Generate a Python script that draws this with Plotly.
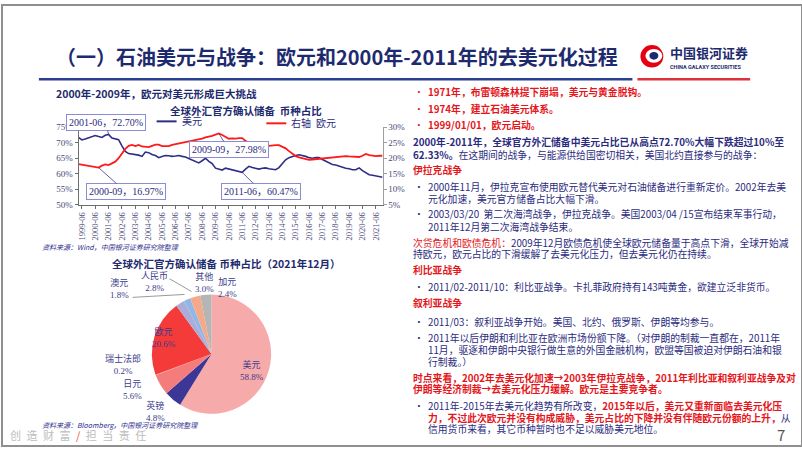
import plotly.graph_objects as go

W, H = 802, 451
def fx(x): return x / W
def fy(y): return 1 - y / H

NAVY = "#2B2B7E"
RED = "#E5161B"
SERIF = "Liberation Serif, Noto Sans CJK SC"
SANS = "Noto Sans CJK SC, Noto Sans, sans-serif"

# ---------------- data ----------------
years = list(range(1999, 2022))
quarter_ends = ["03-31", "06-30", "09-30", "12-31"]
dates = [f"{y}-{q}" for y in years for q in quarter_ends]

usd_share = [
    71.7, 70.9, 71.2, 71.5,   # 1999
    71.8, 72.3, 72.0, 71.7,   # 2000
    72.4, 72.7, 71.5, 71.2,   # 2001
    71.0, 69.0, 67.2, 66.5,   # 2002
    66.4, 66.3, 66.0, 65.6,   # 2003
    67.0, 66.8, 66.2, 65.9,   # 2004
    65.2, 65.6, 65.9, 65.8,   # 2005
    65.6, 65.7, 65.9, 65.6,   # 2006
    65.4, 64.9, 64.4, 63.9,   # 2007
    63.5, 64.2, 65.0, 64.0,   # 2008
    63.3, 61.8, 61.5, 61.2,   # 2009
    61.8, 61.5, 61.2, 61.0,   # 2010
    60.8, 60.47, 61.5, 62.4,  # 2011
    62.0, 61.7, 61.5, 61.8,   # 2012
    61.9, 61.6, 61.4, 61.3,   # 2013
    62.0, 63.2, 64.5, 65.2,   # 2014
    65.6, 65.9, 66.1, 65.9,   # 2015
    65.6, 65.2, 65.0, 65.2,   # 2016
    65.2, 64.6, 64.0, 63.4,   # 2017
    63.0, 62.8, 62.4, 62.0,   # 2018
    61.8, 61.6, 61.3, 61.3,   # 2019
    61.9, 61.0, 60.2, 59.7,   # 2020
    59.5, 59.3, 59.1, 58.9,   # 2021
]
eur_share = [
    18.1, 17.9, 17.8, 17.5,   # 1999
    17.4, 17.2, 16.97, 17.6,  # 2000
    18.0, 17.8, 18.3, 18.9,   # 2001
    20.0, 21.5, 23.0, 24.0,   # 2002
    24.3, 23.9, 24.3, 23.8,   # 2003
    23.6, 23.6, 24.0, 24.4,   # 2004
    24.4, 23.9, 23.9, 23.9,   # 2005
    24.3, 24.5, 24.8, 25.0,   # 2006
    25.2, 25.5, 25.7, 25.9,   # 2007
    26.1, 26.3, 26.7, 26.9,   # 2008
    27.2, 27.6, 27.98, 27.5,  # 2009
    26.8, 26.3, 26.4, 26.3,   # 2010
    26.5, 26.5, 25.6, 25.0,   # 2011
    24.7, 24.5, 24.3, 24.2,   # 2012
    23.9, 24.0, 24.2, 24.2,   # 2013
    24.2, 23.8, 23.2, 22.3,   # 2014
    21.4, 20.7, 20.3, 20.0,   # 2015
    19.7, 19.5, 19.6, 19.7,   # 2016
    19.9, 20.0, 20.2, 20.3,   # 2017
    20.4, 20.5, 20.6, 20.7,   # 2018
    20.7, 20.6, 20.5, 20.6,   # 2019
    20.4, 20.8, 21.4, 21.0,   # 2020
    20.8, 20.7, 20.8, 20.8,   # 2021
]
tick_dates = [f"{y}-06-30" for y in years]
tick_text = [f"{y}-06" for y in years]

series_names = ["美元", "右轴  欧元"]
series_colors = ["#2E2E86", "#FF1A1A"]

# callouts: (date, value, axis, label, ax, ay)
callouts = [
    ("2001-06-30", 72.70, "y", "2001-06，72.70%", -3, -12),
    ("2000-09-30", 16.97, "y2", "2000-09，16.97%", 27, 24),
    ("2009-09-30", 27.98, "y2", "2009-09，27.98%", 10, 16),
    ("2011-06-30", 60.47, "y", "2011-06，60.47%", 19, 19),
]

pie_labels = ["美元", "英镑", "日元", "瑞士法郎", "欧元", "加元", "澳元", "人民币", "其他"]
pie_values = [58.8, 4.8, 5.6, 0.2, 20.6, 2.4, 1.8, 2.8, 3.0]
pie_colors = ["#F6AAAA", "#3C3697", "#F47C7C", "#F2A07B", "#F53A3A",
              "#ABADD9", "#92B6E6", "#F3A98A", "#B5B5B5"]
pie_label_pos = {"美元": (251, 374), "英镑": (154, 416), "日元": (131, 394),
                 "瑞士法郎": (121, 368), "欧元": (162, 340), "加元": (226, 289),
                 "澳元": (118, 290), "人民币": (153, 283), "其他": (203, 284)}

fig = go.Figure()

fig.add_trace(go.Scatter(x=dates, y=usd_share, name=series_names[0], mode="lines",
                         line=dict(color=series_colors[0], width=1.6), yaxis="y",
                         showlegend=False))
fig.add_trace(go.Scatter(x=dates, y=eur_share, name=series_names[1], mode="lines",
                         line=dict(color=series_colors[1], width=1.8), yaxis="y2",
                         showlegend=False))

pcx, pcy, pr = 210, 357, 61
fig.add_trace(go.Pie(labels=pie_labels, values=pie_values, sort=False,
                     direction="clockwise", rotation=0, textinfo="none",
                     marker=dict(colors=pie_colors, line=dict(width=0)),
                     showlegend=False, hoverinfo="label+percent",
                     domain=dict(x=[fx(pcx - pr), fx(pcx + pr)],
                                 y=[fy(pcy + pr), fy(pcy - pr)])))

ann = []
shapes = []

# line chart callouts
for d, v, ax_ref, txt, axp, ayp in callouts:
    ann.append(dict(x=d, y=v, xref="x", yref=ax_ref, text=txt, showarrow=True,
                    arrowhead=0, arrowwidth=0.8, arrowcolor="#3A3A8A",
                    ax=axp, ay=ayp, font=dict(family=SERIF, size=10, color=NAVY),
                    bordercolor="#8C8CD6", borderwidth=1, borderpad=2,
                    bgcolor="white"))

# pie labels
for lab, val in zip(pie_labels, pie_values):
    x, y = pie_label_pos[lab]
    ann.append(dict(x=fx(x), y=fy(y), xref="paper", yref="paper",
                    text=f"{lab}<br>{val:.1f}%", showarrow=False,
                    font=dict(family=SERIF, size=9, color="#3C3C8C"),
                    xanchor="center", yanchor="middle", align="center"))
# pie leader lines
for (x0, y0, x1, y1) in [(131, 299, 183, 296), (168, 280, 190, 293)]:
    shapes.append(dict(type="line", xref="paper", yref="paper",
                       x0=fx(x0), y0=fy(y0), x1=fx(x1), y1=fy(y1),
                       line=dict(color="#808080", width=0.8)))

def text(x, y, s, size=10, color=NAVY, anchor="left", family=SANS):
    ann.append(dict(x=fx(x), y=fy(y), xref="paper", yref="paper", text=s,
                    showarrow=False, xanchor=anchor, yanchor="middle",
                    font=dict(family=family, size=size, color=color)))

# manual legend for the line chart
for (lx, ly), nm, col in zip([(155, 119), (265, 121)], series_names, series_colors):
    shapes.append(dict(type="line", xref="paper", yref="paper",
                       x0=fx(lx), x1=fx(lx + 20), y0=fy(ly), y1=fy(ly),
                       line=dict(color=col, width=2)))
    text(lx + 23, ly, nm, 10, NAVY, family=SERIF)

# title & headings
text(52, 53, "<b>（一）石油美元与战争：欧元和2000年-2011年的去美元化过程</b>", 20, "#1E2A6E")
text(52, 91, "<b>2000年-2009年，欧元对美元形成巨大挑战</b>", 10.5, "#1E2A6E")
text(245, 108, "<b>全球外汇官方确认储备  币种占比</b>", 10.5, "#1E2A6E", "center")
text(38, 247, "<i>资料来源：Wind，中国银河证券研究院整理</i>", 7, "#2E2E8E")
text(225, 264, "<b>全球外汇官方确认储备 币种占比（2021年12月）</b>", 10.5, "#1E2A6E", "center")
text(38, 430, "<i>资料来源：Bloomberg，中国银河证券研究院整理</i>", 7, "#2E2E8E")

# logo
text(668, 49, "<b>中国银河证券</b>", 13, "#1D2A6E")
text(668, 63, "<b>CHINA GALAXY SECURITIES</b>", 5.5, "#1D2A6E", family="Roboto")
shapes.append(dict(type="circle", xref="paper", yref="paper",
                   x0=fx(640), x1=fx(663), y0=fy(64), y1=fy(41),
                   fillcolor="#E60012", line=dict(width=0)))
shapes.append(dict(type="circle", xref="paper", yref="paper",
                   x0=fx(645), x1=fx(662), y0=fy(59), y1=fy(45),
                   fillcolor="white", line=dict(width=0)))
shapes.append(dict(type="circle", xref="paper", yref="paper",
                   x0=fx(649), x1=fx(658), y0=fy(56), y1=fy(48),
                   fillcolor="#1D2A6E", line=dict(width=0)))

# title underline
shapes.append(dict(type="line", xref="paper", yref="paper", x0=fx(37), x1=fx(632),
                   y0=fy(76), y1=fy(76), line=dict(color="#2A3F8F", width=2.5)))
shapes.append(dict(type="line", xref="paper", yref="paper", x0=fx(637), x1=fx(750),
                   y0=fy(76), y1=fy(76), line=dict(color="#E0303A", width=2.5)))

# footer
text(6, 440, "创\u2002造\u2002财\u2002富\u2002<span style='color:#E8532B'>/</span>\u2002担\u2002当\u2002责\u2002任",
     11, "#BDBDBD")
text(781, 439, "7", 15, "#555555", "center")

# right-hand text
R = RED
FS = 9.8
def red(s): return f"<span style='color:{R}'>{s}</span>"

lines = [
    (89, True, R, "<b>1971年，布雷顿森林提下崩塌，美元与黄金脱钩。</b>"),
    (106, True, R, "<b>1974年，建立石油美元体系。</b>"),
    (123, True, R, "<b>1999/01/01，欧元启动。</b>"),
    (140, False, NAVY, "<b>2000年-2011年，全球官方外汇储备中美元占比已从高点72.70%大幅下跌超过10%至</b>"),
    (153, False, NAVY, "<b>62.33%。</b>在这期间的战争，与能源供给国密切相关，美国北约直接参与的战争："),
    (169, False, R, "<b>伊拉克战争</b>"),
    (186, True, NAVY, "2000年11月，伊拉克宣布使用欧元替代美元对石油储备进行重新定价。2002年去美"),
    (198, None, NAVY, "元化加速，美元官方储备占比大幅下滑。"),
    (214, True, NAVY, "2003/03/20  第二次海湾战争，伊拉克战争。美国2003/04 /15宣布结束军事行动，"),
    (227, None, NAVY, "2011年12月第二次海湾战争结束。"),
    (243, False, NAVY, red("次贷危机和欧债危机：") + "2009年12月欧债危机使全球欧元储备量于高点下滑，全球开始减"),
    (255, False, NAVY, "持欧元，欧元占比的下滑缓解了去美元化压力，但去美元化仍在持续。"),
    (271, False, R, "<b>利比亚战争</b>"),
    (288, True, NAVY, "2011/02-2011/10：利比亚战争。卡扎菲政府持有143吨黄金，欲建立泛非货币。"),
    (305, False, R, "<b>叙利亚战争</b>"),
    (324, True, NAVY, "2011/03：叙利亚战争开始。美国、北约、俄罗斯、伊朗等均参与。"),
    (341, True, NAVY, "2011年以后伊朗和利比亚在欧洲市场份额下降。（对伊朗的制裁一直都在，2011年"),
    (353, None, NAVY, "11月，驱逐和伊朗中央银行做生意的外国金融机构，欧盟等国被迫对伊朗石油和银"),
    (365, None, NAVY, "行制裁。）"),
    (381, False, R, "<b>时点来看，2002年去美元化加速→2003年伊拉克战争，2011年利比亚和叙利亚战争及对</b>"),
    (393, False, R, "<b>伊朗等经济制裁→去美元化压力缓解。欧元是主要竞争者。</b>"),
    (410, True, NAVY, "2011年-2015年去美元化趋势有所改变，" + red("<b>2015年以后，美元又重新面临去美元化压</b>")),
    (422, None, NAVY, red("<b>力，不过此次欧元并没有构成威胁，美元占比的下降并没有伴随欧元份额的上升，</b>") + "从"),
    (434, None, NAVY, "信用货币来看，其它币种暂时也不足以威胁美元地位。"),
]
for y, b, col, s in lines:
    if b is True:
        text(411, y, "•", FS, col)
        text(425, y, s, FS, col)
    elif b is None:
        text(425, y, s, FS, col)
    else:
        text(410, y, s, FS, col)

# slide frame
shapes.append(dict(type="rect", xref="paper", yref="paper", x0=0, x1=1, y0=0, y1=1,
                   line=dict(color="#8F8F8F", width=2), layer="above"))

axis_font = dict(family=SERIF, size=9, color="#4A4A7A")
fig.update_layout(
    width=W, height=H, autosize=False,
    margin=dict(l=0, r=0, t=0, b=0),
    paper_bgcolor="white", plot_bgcolor="white",
    font=dict(family=SANS, color=NAVY),
    showlegend=False,
    xaxis=dict(domain=[fx(76.7), fx(381.5)], type="date",
               range=["1999-03-31", "2021-12-31"], showgrid=False, zeroline=False,
               showline=True, linecolor="#6F6F6F", linewidth=1,
               ticks="outside", ticklen=3, tickcolor="#6F6F6F",
               tickvals=tick_dates, ticktext=tick_text, tickangle=-90,
               tickfont=dict(family=SERIF, size=8.5, color="#4A4A7A")),
    yaxis=dict(domain=[fy(204.3), fy(125)], range=[50, 75], dtick=5,
               ticksuffix="%", showgrid=False, zeroline=False,
               showline=True, linecolor="#6F6F6F", linewidth=1,
               ticks="outside", ticklen=3, tickcolor="#6F6F6F", tickfont=axis_font),
    yaxis2=dict(overlaying="y", side="right", anchor="x", range=[5, 30], dtick=5,
                ticksuffix="%", showgrid=False, zeroline=False,
                showline=True, linecolor="#9F9F9F", linewidth=1,
                ticks="outside", ticklen=3, tickcolor="#9F9F9F", tickfont=axis_font),
    annotations=ann, shapes=shapes,
)

fig.write_html("out.html")
